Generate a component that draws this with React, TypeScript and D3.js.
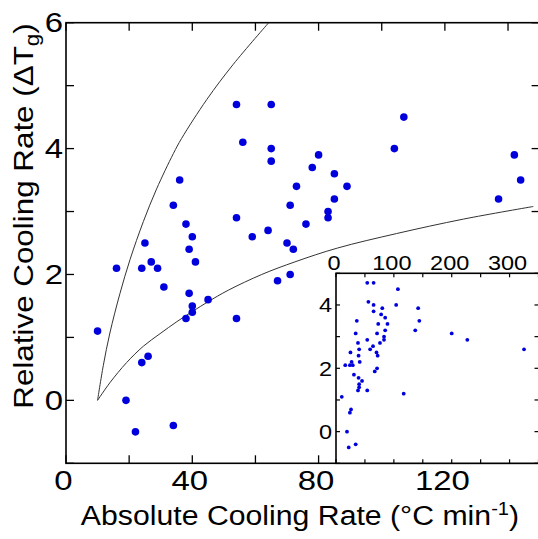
import { useRef, useEffect } from "react";
import * as d3 from "d3";

// absolute cooling rate (°C/min) and relative cooling rate (ΔTg)
const coolingRate = [10, 16, 19, 22, 24, 24, 25, 26, 27, 29, 31, 34, 34, 36, 38, 38, 39, 39, 40, 40, 40, 41, 45,
  54, 54, 54, 56, 59, 64, 65, 65, 65, 67, 70, 71, 71, 72, 73, 76, 78, 80, 83, 83, 85, 85, 89, 104, 107, 117,
  137, 142, 144, 200, 227, 325];
const deltaTg = [1.1, 2.1, 0, -0.5, 2.1, 0.6, 2.5, 0.7, 2.2, 2.1, 1.8, 3.1, -0.4, 3.5, 2.8, 1.3, 2.4, 1.7, 2.6, 1.5, 1.4, 2.2, 1.6,
  4.7, 2.9, 1.3, 4.1, 2.6, 2.7, 4.7, 4.0, 3.8, 1.9, 2.5, 3.1, 2.0, 2.4, 3.4, 2.8, 3.7, 3.9, 3.0, 2.9, 3.6, 3.2, 3.4, 4.0, 4.5, 1.2,
  3.2, 3.9, 3.5, 3.1, 2.9, 2.6];

// bounding curves
const upperX = [10, 11.8, 13.9, 17.1, 20.3, 24.5, 28.7, 34.0, 36.6, 44.6, 53.0, 64.2];
const upperY = [0, 0.55, 1.07, 1.7, 2.24, 2.84, 3.36, 3.92, 4.16, 4.78, 5.34, 6.0];
const lowerX = [10, 13.9, 19.2, 24.5, 29.8, 35.1, 40.3, 45.1, 51.4, 62.0, 72.5, 86, 104.7, 125.9, 148];
const lowerY = [0, 0.28, 0.6, 0.86, 1.06, 1.25, 1.42, 1.57, 1.75, 2.0, 2.2, 2.42, 2.65, 2.88, 3.08];

const xTickLabels = [0, 40, 80, 120];
const yTickLabels = [0, 2, 4, 6];
const insetXTickLabels = [0, 100, 200, 300];
const insetYTickLabels = [0, 2, 4];

const font = "'Liberation Sans', Arial, sans-serif";

const App = () => {
  const svgRef = useRef<SVGSVGElement>(null);

  useEffect(() => {
    const svg = d3.select(svgRef.current);
    svg.selectAll("*").remove();

    const x = d3.scaleLinear().domain([0, 150]).range([66, 539.6]);
    const y = d3.scaleLinear().domain([-1, 6]).range([463.3, 22.7]);

    const data = coolingRate.map((c, i) => ({ c, t: deltaTg[i] }));

    // main ticks
    const g = svg.append("g").attr("stroke", "#000").attr("stroke-width", 1.3);
    const tl = 8;
    d3.range(0, 151, 20).forEach(v => {
      g.append("line").attr("x1", x(v)).attr("x2", x(v)).attr("y1", y(-1)).attr("y2", y(-1) - tl);
      g.append("line").attr("x1", x(v)).attr("x2", x(v)).attr("y1", y(6)).attr("y2", y(6) + tl);
    });
    d3.range(-1, 7).forEach(v => {
      g.append("line").attr("x1", x(0)).attr("x2", x(0) + tl).attr("y1", y(v)).attr("y2", y(v));
      g.append("line").attr("x1", x(150)).attr("x2", x(150) - tl).attr("y1", y(v)).attr("y2", y(v));
    });
    g.append("rect")
      .attr("x", x(0)).attr("y", y(6))
      .attr("width", x(150) - x(0)).attr("height", y(-1) - y(6))
      .attr("fill", "none").attr("stroke-width", 1.6);

    // curves
    const line = d3.line<number>().curve(d3.curveCatmullRom.alpha(0.5));
    svg.append("path")
      .attr("d", line.x(v => x(v)).y((_, i) => y(upperY[i]))(upperX))
      .attr("fill", "none").attr("stroke", "#333").attr("stroke-width", 1);
    svg.append("path")
      .attr("d", line.x(v => x(v)).y((_, i) => y(lowerY[i]))(lowerX))
      .attr("fill", "none").attr("stroke", "#333").attr("stroke-width", 1);

    // main points
    svg.append("g")
      .selectAll("circle")
      .data(data.filter(d => d.c <= 150))
      .join("circle")
      .attr("cx", d => x(d.c))
      .attr("cy", d => y(d.t))
      .attr("r", 3.8)
      .attr("fill", "#0000dd");

    // tick labels
    const label = (parent, tx, ty, txt, size, sx, anchor) =>
      parent.append("text")
        .attr("transform", `translate(${tx},${ty}) scale(${sx},1)`)
        .attr("text-anchor", anchor)
        .attr("font-family", font)
        .attr("font-size", size)
        .attr("fill", "#000")
        .text(txt);

    xTickLabels.forEach(v => label(svg, x(v) - 2.5, 490, v, 27, 1.22, "middle"));
    yTickLabels.forEach(v => label(svg, 63, y(v) + 9.5, v, 27, 1.22, "end"));

    // axis titles
    const xt = svg.append("text")
      .attr("transform", "translate(300,525) scale(1.12,1)")
      .attr("text-anchor", "middle")
      .attr("font-family", font)
      .attr("font-size", 27);
    xt.append("tspan").text("Absolute Cooling Rate (°C min");
    xt.append("tspan").attr("font-size", 18).attr("dy", -10).text("-1");
    xt.append("tspan").attr("dy", 10).text(")");

    const yt = svg.append("text")
      .attr("transform", "translate(33,216) rotate(-90) scale(1.12,1)")
      .attr("text-anchor", "middle")
      .attr("font-family", font)
      .attr("font-size", 28);
    yt.append("tspan").text("Relative Cooling Rate (ΔT");
    yt.append("tspan").attr("font-size", 20).attr("dy", 6).text("g");
    yt.append("tspan").attr("dy", -6).text(")");

    // inset
    const ix = d3.scaleLinear().domain([0, 350]).range([336, 538.5]);
    const iy = d3.scaleLinear().domain([-1, 5]).range([463.3, 273.3]);

    const ig = svg.append("g");
    ig.append("rect")
      .attr("x", ix(0)).attr("y", iy(5))
      .attr("width", ix(350) - ix(0) + 4).attr("height", iy(-1) - iy(5))
      .attr("fill", "#fff").attr("stroke", "#000").attr("stroke-width", 1.6);
    const it = ig.append("g").attr("stroke", "#000").attr("stroke-width", 1.2);
    const il = 4;
    d3.range(0, 351, 50).forEach(v => {
      it.append("line").attr("x1", ix(v)).attr("x2", ix(v)).attr("y1", iy(-1)).attr("y2", iy(-1) - il);
      it.append("line").attr("x1", ix(v)).attr("x2", ix(v)).attr("y1", iy(5)).attr("y2", iy(5) + il);
    });
    d3.range(-1, 6).forEach(v => {
      it.append("line").attr("x1", ix(0)).attr("x2", ix(0) + il).attr("y1", iy(v)).attr("y2", iy(v));
      it.append("line").attr("x1", ix(350)).attr("x2", ix(350) - il).attr("y1", iy(v)).attr("y2", iy(v));
    });

    ig.append("g")
      .selectAll("circle")
      .data(data)
      .join("circle")
      .attr("cx", d => ix(d.c))
      .attr("cy", d => iy(d.t))
      .attr("r", 1.9)
      .attr("fill", "#0000dd");

    insetXTickLabels.forEach(v => label(svg, ix(v) - 2, 270, v, 21, 1.12, "middle"));
    insetYTickLabels.forEach(v => label(svg, 332, iy(v) + 7.5, v, 21, 1.12, "end"));
  }, []);

  return (
    <svg
      ref={svgRef}
      width={538}
      height={539}
      style={{ position: "absolute", left: 0, top: 0, background: "#fff" }}
    />
  );
};

export default App;
